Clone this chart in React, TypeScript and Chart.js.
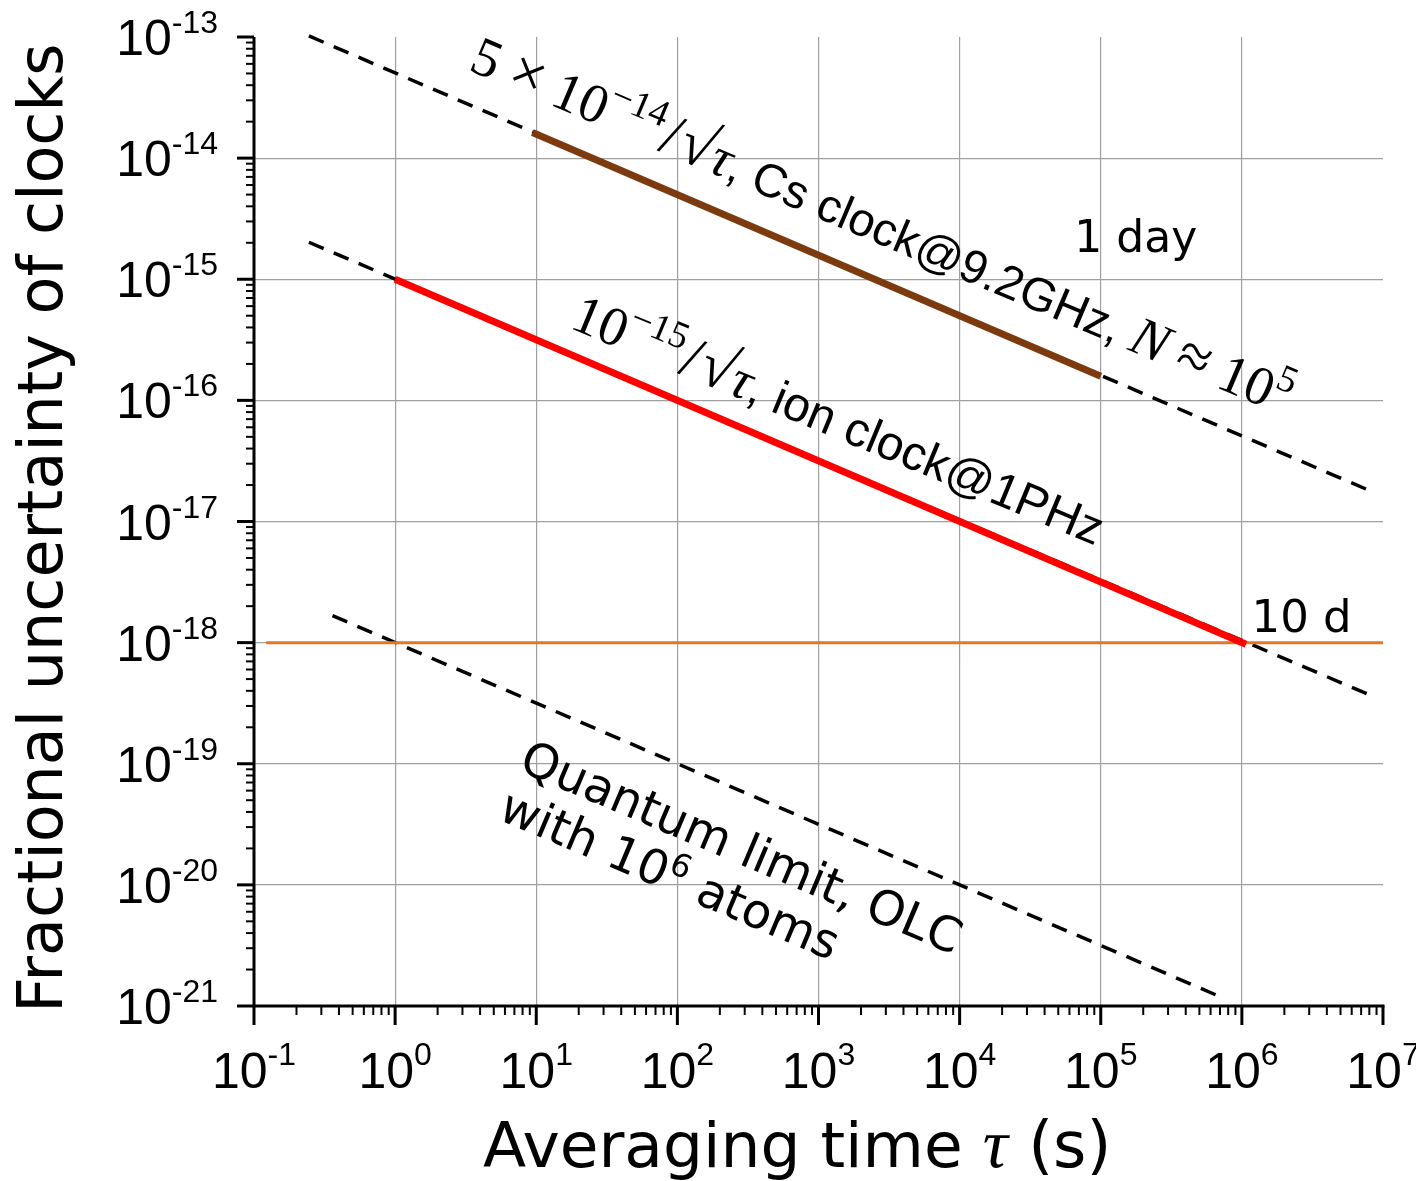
import React, { useEffect, useRef } from "react";
import { Chart, registerables } from "chart.js";

Chart.register(...registerables);

// ---- axis ranges & ticks ----
const xMin = 0.1;
const xMax = 1e7;
const yMin = 1e-21;
const yMax = 1e-13;
const xTickExponents = [-1, 0, 1, 2, 3, 4, 5, 6, 7];
const yTickExponents = [-13, -14, -15, -16, -17, -18, -19, -20, -21];

// ---- series (tau in s, fractional uncertainty) ----
const csDashTau = [0.245, 8.5e6];
const csDashValue = [1.02e-13, 1.75e-17];
const csSolidTau = [9.4, 1e5];
const csSolidValue = [1.63e-14, 1.58e-16];
const ionDashTau = [0.245, 8.5e6];
const ionDashValue = [2.02e-15, 3.6e-19];
const ionSolidTau = [1, 1.07e6];
const ionSolidValue = [1e-15, 9.7e-19];
const quantumTau = [0.36, 7.3e5];
const quantumValue = [1.67e-18, 1.17e-21];
const refTau = [0.122, 1e7];
const refValue = [1e-18, 1e-18];

const BLACK = "#000000";
const BROWN = "#7d3a0e";
const RED = "#ff0000";
const ORANGE = "#e2762a";
const GRID = "#a0a0a0";

const MATH = "Liberation Serif";
const SANS = "Liberation Sans";
const DV = "DejaVu Sans";

type Seg = { t: string; f: string; raise?: number; padL?: number; padR?: number };

const pts = (xs: number[], ys: number[]) => xs.map((x, i) => ({ x, y: ys[i] }));

function isDecade(v: number) {
  const l = Math.log10(v);
  return Math.abs(l - Math.round(l)) < 1e-6;
}

function drawRich(ctx: CanvasRenderingContext2D, x: number, y: number, angleDeg: number, segs: Seg[]) {
  ctx.save();
  ctx.translate(x, y);
  ctx.rotate((angleDeg * Math.PI) / 180);
  ctx.textAlign = "left";
  ctx.textBaseline = "alphabetic";
  ctx.fillStyle = "#000";
  let cx = 0;
  for (const s of segs) {
    ctx.font = s.f;
    cx += s.padL || 0;
    ctx.fillText(s.t, cx, -(s.raise || 0));
    cx += ctx.measureText(s.t).width + (s.padR || 0);
  }
  ctx.restore();
}

const decorPlugin = {
  id: "decor",
  afterDraw(chart: any) {
    const ctx: CanvasRenderingContext2D = chart.ctx;
    const xs = chart.scales.x;
    const ys = chart.scales.y;
    const a = chart.chartArea;
    ctx.save();
    ctx.strokeStyle = "#000";
    ctx.lineCap = "butt";
    // axis lines
    ctx.lineWidth = 3;
    ctx.beginPath();
    ctx.moveTo(a.left, a.top);
    ctx.lineTo(a.left, a.bottom + 1.5);
    ctx.moveTo(a.left - 1.5, a.bottom);
    ctx.lineTo(a.right + 1.5, a.bottom);
    ctx.stroke();
    // x ticks
    for (const e of xTickExponents) {
      const px = xs.getPixelForValue(Math.pow(10, e));
      ctx.lineWidth = 3;
      ctx.beginPath();
      ctx.moveTo(px, a.bottom);
      ctx.lineTo(px, a.bottom + 19);
      ctx.stroke();
      if (e < 7) {
        ctx.lineWidth = 2;
        for (let k = 2; k <= 9; k++) {
          const mx = xs.getPixelForValue(k * Math.pow(10, e));
          ctx.beginPath();
          ctx.moveTo(mx, a.bottom);
          ctx.lineTo(mx, a.bottom + 9);
          ctx.stroke();
        }
      }
    }
    // y ticks
    for (const e of yTickExponents) {
      const py = ys.getPixelForValue(Math.pow(10, e));
      ctx.lineWidth = 3;
      ctx.beginPath();
      ctx.moveTo(a.left - 17, py);
      ctx.lineTo(a.left, py);
      ctx.stroke();
      if (e < -13) {
        ctx.lineWidth = 2;
        for (let k = 2; k <= 9; k++) {
          const my = ys.getPixelForValue(k * Math.pow(10, e));
          ctx.beginPath();
          ctx.moveTo(a.left - 8, my);
          ctx.lineTo(a.left, my);
          ctx.stroke();
        }
      }
    }
    // tick labels
    ctx.fillStyle = "#000";
    ctx.textBaseline = "alphabetic";
    ctx.textAlign = "left";
    const baseFont = `50px "${SANS}"`;
    const expFont = `32px "${SANS}"`;
    for (const e of xTickExponents) {
      const px = xs.getPixelForValue(Math.pow(10, e));
      ctx.font = baseFont;
      const wb = ctx.measureText("10").width;
      ctx.font = expFont;
      const es = String(e);
      const we = ctx.measureText(es).width;
      const sx = px - (wb + we) / 2;
      const by = a.bottom + 82;
      ctx.font = baseFont;
      ctx.fillText("10", sx, by);
      ctx.font = expFont;
      ctx.fillText(es, sx + wb, by - 23);
    }
    for (const e of yTickExponents) {
      const py = ys.getPixelForValue(Math.pow(10, e));
      ctx.font = baseFont;
      const wb = ctx.measureText("10").width;
      ctx.font = expFont;
      const es = String(e);
      const we = ctx.measureText(es).width;
      const right = a.left - 36;
      const by = py + 18;
      ctx.font = baseFont;
      ctx.fillText("10", right - we - wb, by);
      ctx.font = expFont;
      ctx.fillText(es, right - we, by - 22);
    }
    // axis titles
    drawRich(ctx, 483, 1167, 0, [
      { t: "Averaging time ", f: `63px "${DV}"` },
      { t: "τ", f: `italic 70px "${MATH}"` },
      { t: " (s)", f: `64px "${DV}"` },
    ]);
    ctx.save();
    ctx.translate(62, 528);
    ctx.rotate(-Math.PI / 2);
    ctx.textAlign = "center";
    ctx.font = `62px "${DV}"`;
    ctx.fillText("Fractional uncertainty of clocks", 0, 0);
    ctx.restore();

    // annotations (anchored in data coordinates)
    const P = (tau: number, v: number) => [xs.getPixelForValue(tau), ys.getPixelForValue(v)];
    const m = `55px "${MATH}"`;
    const mi = `italic 55px "${MATH}"`;
    const ms = `38px "${MATH}"`;
    const cs = P(3.24, 5.4e-14);
    drawRich(ctx, cs[0], cs[1], 23, [
      { t: "5", f: m },
      { t: "×", f: `62px "${MATH}"`, padL: 13, padR: 13 },
      { t: "10", f: m },
      { t: "−14", f: ms, raise: 23 },
      { t: "/", f: `60px "${MATH}"`, padL: 3, padR: 3 },
      { t: "√", f: `62px "${MATH}"` },
      { t: "τ", f: mi },
      { t: ", Cs clock@9.2GHz, ", f: `47px "${SANS}"` },
      { t: "N", f: mi },
      { t: "≈", f: `60px "${MATH}"`, padL: 13, padR: 13 },
      { t: "10", f: m },
      { t: "5", f: ms, raise: 23 },
    ]);
    const ion = P(16.9, 4.0e-16);
    drawRich(ctx, ion[0], ion[1], 22.5, [
      { t: "10", f: m },
      { t: "−15", f: ms, raise: 23 },
      { t: "/", f: `60px "${MATH}"`, padL: 3, padR: 3 },
      { t: "√", f: `62px "${MATH}"` },
      { t: "τ", f: mi },
      { t: ", ion clock@1PHz", f: `48px "${SANS}"` },
    ]);
    const qa = P(7.33, 8.9e-20);
    drawRich(ctx, qa[0], qa[1], 23, [{ t: "Quantum limit, OLC", f: `48px "${DV}"` }]);
    const ang = (23 * Math.PI) / 180;
    drawRich(ctx, qa[0] - 53 * Math.sin(ang), qa[1] + 53 * Math.cos(ang), 23, [
      { t: "with 10", f: `48px "${DV}"` },
      { t: "6", f: `32px "${DV}"`, raise: 18 },
      { t: " atoms", f: `48px "${DV}"` },
    ]);
    const day = P(6.5e4, 1.67e-15);
    drawRich(ctx, day[0], day[1], 0, [{ t: "1 day", f: `44px "${DV}"` }]);
    const tend = P(1.17e6, 1.22e-18);
    drawRich(ctx, tend[0], tend[1], 0, [{ t: "10 d", f: `45px "${DV}"` }]);
    ctx.restore();
  },
};

export default function App() {
  const ref = useRef<HTMLCanvasElement | null>(null);
  useEffect(() => {
    if (!ref.current) return;
    document.body.style.margin = "0";
    document.body.style.overflow = "hidden";
    const dash = [16, 11];
    const chart = new Chart(ref.current, {
      type: "scatter",
      data: {
        datasets: [
          { data: pts(ionSolidTau, ionSolidValue), borderColor: RED, borderWidth: 7, order: 0 },
          { data: pts(csSolidTau, csSolidValue), borderColor: BROWN, borderWidth: 7, order: 1 },
          { data: pts(csDashTau, csDashValue), borderColor: BLACK, borderWidth: 3.5, borderDash: dash, order: 3 },
          { data: pts(ionDashTau, ionDashValue), borderColor: BLACK, borderWidth: 3.5, borderDash: dash, order: 3 },
          { data: pts(quantumTau, quantumValue), borderColor: BLACK, borderWidth: 3.5, borderDash: dash, order: 3 },
          { data: pts(refTau, refValue), borderColor: ORANGE, borderWidth: 3, order: 2 },
        ].map((d) => ({ ...d, showLine: true, pointRadius: 0, fill: false, clip: false as any, borderCapStyle: "butt" as const })),
      },
      options: {
        animation: false,
        responsive: false,
        events: [],
        layout: { padding: { left: 254, top: 37, right: 33, bottom: 175 } },
        plugins: { legend: { display: false }, tooltip: { enabled: false } },
        scales: {
          x: {
            type: "logarithmic",
            min: xMin,
            max: xMax,
            ticks: { display: false },
            border: { display: false },
            grid: {
              drawTicks: false,
              lineWidth: 1.2,
              color: (c: any) => {
                const v = c.tick && c.tick.value;
                if (!v || !isDecade(v) || v >= xMax * 0.999 || v <= xMin * 1.001) return "rgba(0,0,0,0)";
                return GRID;
              },
            },
          },
          y: {
            type: "logarithmic",
            min: yMin,
            max: yMax,
            ticks: { display: false },
            border: { display: false },
            grid: {
              drawTicks: false,
              lineWidth: 1.2,
              color: (c: any) => {
                const v = c.tick && c.tick.value;
                if (!v || !isDecade(v) || v >= yMax * 0.999 || v <= yMin * 1.001) return "rgba(0,0,0,0)";
                return GRID;
              },
            },
          },
        },
      },
      plugins: [decorPlugin],
    });
    return () => chart.destroy();
  }, []);
  return <canvas ref={ref} width={1416} height={1181} style={{ display: "block" }} />;
}
